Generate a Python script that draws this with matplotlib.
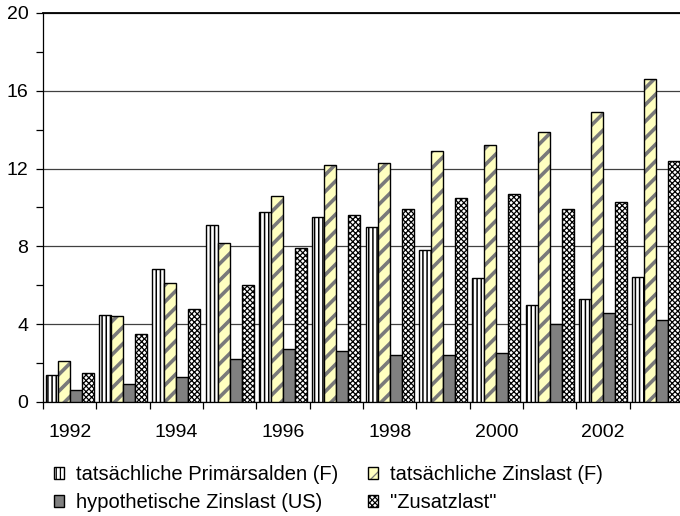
import matplotlib
matplotlib.use("Agg")
import matplotlib.pyplot as plt
import numpy as np

plt.rcParams['font.family'] = ['Liberation Sans', 'DejaVu Sans']

years = [1992, 1993, 1994, 1995, 1996, 1997, 1998, 1999, 2000, 2001, 2002, 2003]
primaersalden = [1.4, 4.45, 6.85, 9.1, 9.75, 9.5, 9.0, 7.8, 6.35, 5.0, 5.3, 6.45]
zinslast_f = [2.1, 4.4, 6.1, 8.2, 10.6, 12.2, 12.3, 12.9, 13.2, 13.9, 14.9, 16.6]
zinslast_us = [0.6, 0.9, 1.3, 2.2, 2.7, 2.6, 2.4, 2.4, 2.5, 4.0, 4.6, 4.2]
zusatzlast = [1.5, 3.5, 4.8, 6.0, 7.9, 9.6, 9.9, 10.5, 10.7, 9.9, 10.3, 12.4]
labels = ["tatsächliche Primärsalden (F)", "tatsächliche Zinslast (F)",
          "hypothetische Zinslast (US)", "\"Zusatzlast\""]

fig = plt.figure(figsize=(6.8, 5.16), dpi=100)
ax = fig.add_axes([43/680, 114/516, 640/680, 389/516])

x = np.arange(len(years))
w = 0.225
styles = [
    dict(facecolor='white', hatch='||||', hcol='black', hlw=1.1),
    dict(facecolor='#ffffc0', hatch='//', hcol='#7a7a7a', hlw=2.6),
    dict(facecolor='#808080', hatch=None, hcol='black', hlw=1.0),
    dict(facecolor='white', hatch='xxxxxx', hcol='black', hlw=0.9),
]
series = [primaersalden, zinslast_f, zinslast_us, zusatzlast]
handles = []
for i, (vals, st) in enumerate(zip(series, styles)):
    plt.rcParams['hatch.linewidth'] = st['hlw']
    plt.rcParams['hatch.color'] = st['hcol']
    bars = ax.bar(x + (i - 1.5) * w, vals, width=w, facecolor=st['facecolor'],
                  edgecolor='black', linewidth=1.0, hatch=st['hatch'], zorder=3)
    for b in bars:
        if hasattr(b, 'set_hatch_linewidth'):
            b.set_hatch_linewidth(st['hlw'])
        try:
            b._hatch_color = matplotlib.colors.to_rgba(st['hcol'])
        except Exception:
            pass
    handles.append(bars)

ax.set_ylim(0, 20)
ax.set_xlim(-0.5, len(years) - 0.5)
ax.set_yticks([0, 4, 8, 12, 16, 20])
ax.set_yticks([2, 6, 10, 14, 18], minor=True)
ax.yaxis.grid(True, which='major', color='#404040', linewidth=0.9, zorder=0)
ax.set_axisbelow(True)
ax.tick_params(axis='y', which='both', direction='out', length=5, width=0.9,
               labelsize=14, pad=5.5)

ax.set_xticks(np.arange(len(years) + 1) - 0.5)
ax.set_xticklabels([])
ax.set_xticks(x[::2], minor=True)
ax.set_xticklabels([str(y) for y in years[::2]], minor=True)
ax.tick_params(axis='x', which='major', direction='out', length=5, width=0.9)
ax.tick_params(axis='x', which='minor', length=0, labelsize=14, pad=15.5)

ax.spines['right'].set_visible(False)
ax.spines['top'].set_linewidth(1.3)
ax.spines['left'].set_linewidth(0.9)
ax.spines['bottom'].set_linewidth(0.9)

order = [0, 2, 1, 3]
leg = fig.legend([handles[i] for i in order], [labels[i] for i in order],
                 loc='upper left', bbox_to_anchor=(54/680, 1 - 465/516), ncol=2,
                 frameon=False, fontsize=14.5, handlelength=0.5, handleheight=0.5,
                 handletextpad=0.58, columnspacing=1.5, labelspacing=0.45,
                 borderaxespad=0, borderpad=0)

fig.savefig('out.png', dpi=100)
